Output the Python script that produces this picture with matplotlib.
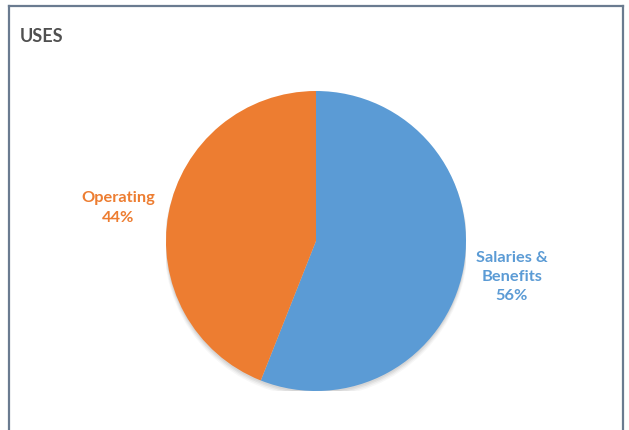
import matplotlib
matplotlib.use("Agg")
import matplotlib.pyplot as plt
from matplotlib.lines import Line2D
from matplotlib.patches import Circle

# Data.
categories = ["Salaries &\nBenefits", "Operating"]
values = [56, 44]
colors = ["#5B9BD5", "#ED7D31"]
title = "USES"

W, H = 629, 430
fig = plt.figure(figsize=(W / 100, H / 100), dpi=100)
fig.patch.set_facecolor("white")

# Frame (left, top, right edges visible).
frame_color = "#6A7B90"
x0, x1, y_top = 8.5 / W, 622.5 / W, 1 - 6 / H
for xs, ys in [([x0, x0], [0, y_top]), ([x0, x1], [y_top, y_top]), ([x1, x1], [y_top, 0])]:
    fig.add_artist(Line2D(xs, ys, transform=fig.transFigure, color=frame_color, lw=1.6))

# Pie axes: centre (316, 241), radius 150 px.
cx, cy, r = 316, 241, 150
ax = fig.add_axes([(cx - r) / W, (H - cy - r) / H, 2 * r / W, 2 * r / H])
# Soft shadow.
for i, a in enumerate([0.05, 0.05, 0.04, 0.03]):
    ax.add_patch(Circle((0, -0.012 - 0.006 * i), 1.0 + 0.004 * i, color="black", alpha=a, lw=0, zorder=0))
ax.pie(values, colors=colors, startangle=90, counterclock=False, radius=1,
       wedgeprops=dict(linewidth=0), frame=False)
ax.set_xlim(-1, 1)
ax.set_ylim(-1, 1)
ax.set_aspect("auto")
ax.axis("off")

# Labels.
font = ["Lato", "DejaVu Sans"]
label_pos = [(512, 277), (118, 208)]
for cat, val, col, (lx, ly) in zip(categories, values, colors, label_pos):
    fig.text(lx / W, 1 - ly / H, f"{cat}\n{val}%", color=col, ha="center", va="center",
             fontsize=11.8, fontweight="bold", family=font, linespacing=1.5)

fig.text(20 / W, 1 - 37 / H, title, color="#505050", ha="left", va="center",
         fontsize=13, fontweight="bold", family=font)

fig.savefig("out.png", dpi=100)
